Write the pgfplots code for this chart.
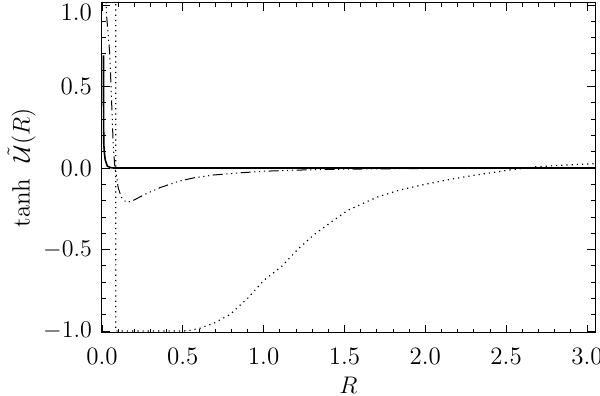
\documentclass[border=0pt]{standalone}
\usepackage{pgfplots}
\pgfplotsset{compat=1.18}
\usetikzlibrary{calc}

\begin{document}
\begin{tikzpicture}
\begin{axis}[
    scale only axis,
    width=246.5pt, height=165pt,
    xmin=0, xmax=3.05,
    ymin=-1.012, ymax=1.012,
    xtick={0,0.5,...,3.0},
    ytick={-1,-0.5,0,0.5,1},
    minor x tick num=4,
    minor y tick num=4,
    xticklabels={0.0,0.5,1.0,1.5,2.0,2.5,3.0},
    yticklabels={$-1.0$,$-0.5$,0.0,0.5,\raisebox{-8pt}[0pt][0pt]{1.0}},
    tick align=inside,
    major tick length=4pt,
    minor tick length=2.2pt,
    tick style={black, line width=0.4pt},
    axis line style={line width=0.5pt},
    ticklabel style={font=\fontsize{12.5}{14}\selectfont},
    xticklabel style={yshift=-4pt},
    yticklabel style={xshift=-1.5pt},
    xlabel={$R$},
    ylabel={tanh\ \ $\tilde{\mathcal{U}}(R)$},
    label style={font=\fontsize{12.5}{14}\selectfont},
    xlabel style={yshift=0.8pt},
    ylabel style={yshift=-3pt},
    clip=true,
]
% solid
\addplot[black, line width=0.8pt] coordinates {
    (0.009,0.69) (0.009,0.50) (0.010,0.30) (0.011,0.15)
    (0.014,0.10) (0.020,0.05) (0.033,0.012) (0.050,0.003)
    (0.070,0) (3.05,0)
};
% dash-dot-dot-dot
\addplot[black, line width=0.5pt,
    dash pattern=on 5pt off 1.8pt on 0.6pt off 1.8pt on 0.6pt off 1.8pt on 0.6pt off 1.8pt] coordinates {
    (0.024,1.10) (0.027,0.95) (0.040,0.80) (0.048,0.70) (0.056,0.50)
    (0.065,0.26) (0.070,0.13) (0.080,0.0) (0.090,-0.05) (0.100,-0.12)
    (0.120,-0.18) (0.150,-0.21) (0.180,-0.205) (0.220,-0.185)
    (0.280,-0.155) (0.360,-0.120) (0.480,-0.080) (0.570,-0.060)
    (0.690,-0.043) (0.850,-0.030) (1.000,-0.020) (1.200,-0.013)
    (1.500,-0.007) (2.000,-0.003) (2.500,-0.001) (3.050,0)
};
% dotted
\addplot[black, line width=0.6pt, dotted] coordinates {
    (0.085,1.10) (0.085,-1.0) (0.30,-1.0) (0.50,-1.0) (0.55,-0.995)
    (0.60,-0.985) (0.69,-0.953) (0.79,-0.90) (0.90,-0.80) (1.00,-0.69)
    (1.11,-0.605) (1.21,-0.50) (1.31,-0.41) (1.42,-0.33) (1.52,-0.26)
    (1.63,-0.21) (1.71,-0.176) (1.84,-0.135) (2.00,-0.10) (2.13,-0.074)
    (2.30,-0.045) (2.52,-0.012) (2.69,0.008) (2.85,0.017) (3.05,0.027)
};
\end{axis}
\pgfresetboundingbox
\path ($(current axis.south west)+(-51pt,-31.5pt)$) rectangle ($(current axis.north east)+(2.5pt,1.5pt)$);
\end{tikzpicture}
\end{document}
